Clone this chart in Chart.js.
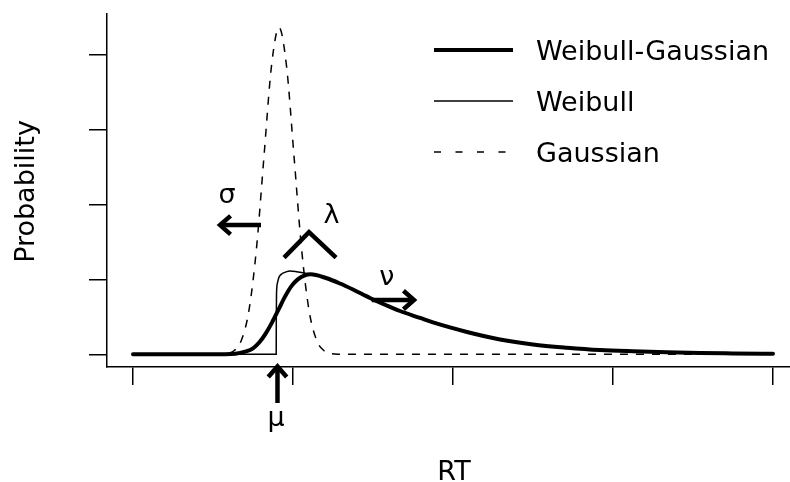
<!DOCTYPE html>
<html>
<head>
<meta charset="utf-8">
<title>Weibull-Gaussian RT distribution</title>
<script src="https://cdn.jsdelivr.net/npm/chart.js@4.4.1/dist/chart.umd.min.js"></script>
<style>
  html, body { margin: 0; padding: 0; background: #fff; }
  #rtChart { display: block; }
</style>
</head>
<body>
<canvas id="rtChart" width="790" height="482"></canvas>
<script>
// ---- values (x in RT units, y in density units) ----
const xTicks = [0, 1, 2, 3, 4];
const yTicks = [0, 1, 2, 3, 4];

const seriesNames = ['Weibull-Gaussian', 'Weibull', 'Gaussian'];

const wgX = [0, 0.575, 0.64, 0.70, 0.75, 0.79, 0.83, 0.87, 0.91, 0.95,
             0.99, 1.03, 1.07, 1.11, 1.2106, 1.2938, 1.375, 1.4813, 1.5856, 1.6688,
             1.7938, 1.875, 2.0875, 2.2938, 2.5, 2.7125, 2.9188, 3.125, 3.3375, 3.5438,
             3.75, 4.0];
const wgY = [0, 0, 0.006, 0.035, 0.08, 0.16, 0.28, 0.43, 0.60, 0.77,
             0.91, 1.00, 1.05, 1.068, 1.015, 0.945, 0.865, 0.752, 0.652, 0.578,
             0.485, 0.425, 0.298, 0.198, 0.131, 0.088, 0.057, 0.040, 0.027, 0.017,
             0.012, 0.007];

const weibullX = [0, 0.895, 0.8956, 0.8969, 0.9025, 0.9125, 0.9313, 0.9563, 0.9813, 1.0231,
                  1.0625, 1.1063, 1.2106, 1.2938, 1.375, 1.4813, 1.5856, 1.6688, 1.7938, 1.875,
                  2.0875, 2.2938, 2.5, 2.7125, 2.9188, 3.125, 3.3375, 3.5438, 3.75, 4.0];
const weibullY = [0, 0, 0.45, 0.80, 0.95, 1.03, 1.075, 1.100, 1.112, 1.103,
                  1.089, 1.068, 1.015, 0.945, 0.865, 0.752, 0.652, 0.578, 0.485, 0.425,
                  0.298, 0.198, 0.131, 0.088, 0.057, 0.040, 0.027, 0.017, 0.012, 0.007];

const gaussX = [0, 0.50, 0.5375, 0.5844, 0.6313, 0.6781, 0.725, 0.7719, 0.8188, 0.8656,
                0.9125, 0.9594, 1.0063, 1.0531, 1.1, 1.1469, 1.1938, 1.2406, 1.2875, 1.33, 4.0];
const gaussY = [0, 0, 0.001, 0.010, 0.048, 0.192, 0.590, 1.417, 2.646, 3.850,
                4.363, 3.850, 2.646, 1.417, 0.590, 0.192, 0.048, 0.010, 0.001, 0, 0];

// parameter markers, in data units
const arrows = [
    { from: [0.800, 1.725], to: [0.544, 1.725] },    // sigma
    { from: [1.492, 0.725], to: [1.756, 0.725] },    // nu
    { from: [0.903, -0.650], to: [0.903, -0.163] },  // mu
];
const caret = [[0.944, 1.29], [1.1, 1.63], [1.269, 1.29]];  // lambda
const symbols = [
    { text: 'σ', at: [0.5875, 2.02] },
    { text: 'λ', at: [1.2406, 1.753] },
    { text: 'ν', at: [1.5856, 0.925] },
    { text: 'μ', at: [0.894, -0.957] },
];

const FONT = '27px "DejaVu Sans"';
const toPoints = (xs, ys) => xs.map((x, i) => ({ x: x, y: ys[i] }));

function drawArrow(ctx, x1, y1, x2, y2) {
    const ang = Math.atan2(y2 - y1, x2 - x1);
    const head = 14, spread = 0.72;
    ctx.beginPath();
    ctx.moveTo(x1, y1);
    ctx.lineTo(x2, y2);
    ctx.stroke();
    ctx.beginPath();
    ctx.moveTo(x2 - head * Math.cos(ang - spread), y2 - head * Math.sin(ang - spread));
    ctx.lineTo(x2, y2);
    ctx.lineTo(x2 - head * Math.cos(ang + spread), y2 - head * Math.sin(ang + spread));
    ctx.stroke();
}

const whiteBg = {
    id: 'whiteBg',
    beforeDraw(chart) {
        const ctx = chart.ctx;
        ctx.save();
        ctx.fillStyle = '#fff';
        ctx.fillRect(0, 0, chart.width, chart.height);
        ctx.restore();
    },
};

const decorations = {
    id: 'decorations',
    afterDatasetsDraw(chart) {
        const ctx = chart.ctx;
        const xs = chart.scales.x, ys = chart.scales.y;
        const px = v => xs.getPixelForValue(v);
        const py = v => ys.getPixelForValue(v);
        ctx.save();
        ctx.strokeStyle = '#000';
        ctx.fillStyle = '#000';

        // arrows and lambda caret
        ctx.lineWidth = 4.5;
        ctx.lineCap = 'butt';
        ctx.lineJoin = 'miter';
        arrows.forEach(a => drawArrow(ctx, px(a.from[0]), py(a.from[1]), px(a.to[0]), py(a.to[1])));
        ctx.beginPath();
        caret.forEach((p, i) => i ? ctx.lineTo(px(p[0]), py(p[1])) : ctx.moveTo(px(p[0]), py(p[1])));
        ctx.stroke();

        // greek labels
        ctx.font = FONT;
        ctx.textAlign = 'center';
        ctx.textBaseline = 'alphabetic';
        symbols.forEach(s => ctx.fillText(s.text, px(s.at[0]), py(s.at[1])));

        // axis titles
        ctx.fillText('RT', px(2) + 1, 480);
        ctx.save();
        ctx.translate(34, (chart.chartArea.top + chart.chartArea.bottom) / 2 + 1);
        ctx.rotate(-Math.PI / 2);
        ctx.fillText('Probability', 0, 0);
        ctx.restore();

        // legend
        const rows = [50, 101, 152];
        chart.data.datasets.forEach((ds, i) => {
            ctx.lineWidth = ds.borderWidth;
            ctx.setLineDash(ds.borderDash ? [7, 14.5] : []);
            ctx.beginPath();
            ctx.moveTo(434, rows[i]);
            ctx.lineTo(513, rows[i]);
            ctx.stroke();
            ctx.setLineDash([]);
            ctx.textAlign = 'left';
            ctx.fillText(ds.label, 536, rows[i] + 10);
        });
        ctx.restore();
    },
};

new Chart(document.getElementById('rtChart'), {
    type: 'line',
    data: {
        datasets: [
            {
                label: seriesNames[0],
                data: toPoints(wgX, wgY),
                borderColor: '#000',
                borderWidth: 4,
                pointRadius: 0,
                cubicInterpolationMode: 'monotone',
                borderCapStyle: 'round',
                fill: false,
            },
            {
                label: seriesNames[1],
                data: toPoints(weibullX, weibullY),
                borderColor: '#000',
                borderWidth: 1.5,
                pointRadius: 0,
                cubicInterpolationMode: 'monotone',
                fill: false,
            },
            {
                label: seriesNames[2],
                data: toPoints(gaussX, gaussY),
                borderColor: '#000',
                borderWidth: 1.5,
                borderDash: [8, 8],
                pointRadius: 0,
                cubicInterpolationMode: 'monotone',
                fill: false,
            },
        ],
    },
    options: {
        responsive: false,
        animation: false,
        layout: { padding: { left: 89, right: 0, top: 14, bottom: 97 } },
        plugins: {
            legend: { display: false },
            tooltip: { enabled: false },
        },
        scales: {
            x: {
                type: 'linear',
                min: -0.1625,
                max: 4.10625,
                afterBuildTicks: axis => { axis.ticks = xTicks.map(v => ({ value: v })); },
                ticks: { display: false },
                grid: { drawOnChartArea: false, drawTicks: true, tickLength: 18, color: '#000', lineWidth: 1.5 },
                border: { display: true, color: '#000', width: 1.5 },
            },
            y: {
                type: 'linear',
                min: -0.1696,
                max: 4.5434,
                afterBuildTicks: axis => { axis.ticks = yTicks.map(v => ({ value: v })); },
                ticks: { display: false },
                grid: { drawOnChartArea: false, drawTicks: true, tickLength: 18, color: '#000', lineWidth: 1.5 },
                border: { display: true, color: '#000', width: 1.5 },
            },
        },
    },
    plugins: [whiteBg, decorations],
});
</script>
</body>
</html>
